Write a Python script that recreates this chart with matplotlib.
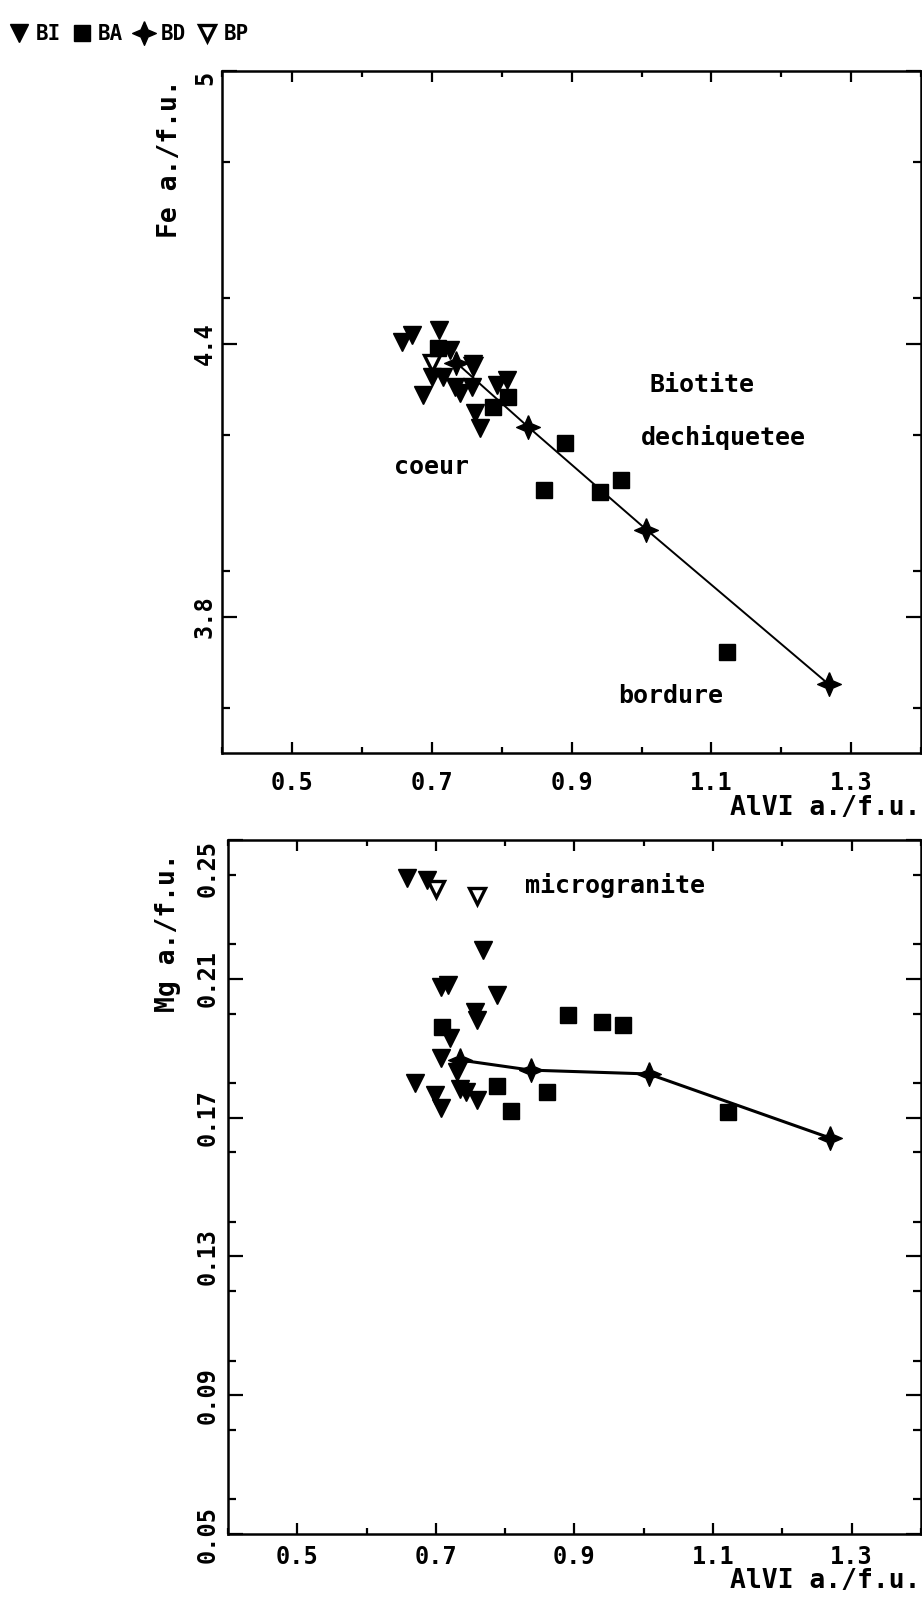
import numpy as np
import matplotlib.pyplot as plt
from matplotlib.ticker import MultipleLocator

plt.rcParams['font.family'] = ['DejaVu Sans Mono', 'DejaVu Sans']
plt.rcParams['font.weight'] = 'bold'
plt.rcParams['axes.labelweight'] = 'bold'

# --- data ---
# BI (filled down triangles), Fe panel
bi_alvi_fe = [0.657, 0.671, 0.710, 0.726, 0.700, 0.716, 0.733, 0.740,
              0.759, 0.757, 0.687, 0.793, 0.807, 0.761, 0.769]
bi_fe = [4.404, 4.420, 4.431, 4.387, 4.327, 4.327, 4.305, 4.292,
         4.356, 4.305, 4.288, 4.310, 4.321, 4.248, 4.215]
# BI, Mg panel
bi_alvi_mg = [0.658, 0.687, 0.708, 0.718, 0.788, 0.759, 0.756, 0.720, 0.708,
              0.730, 0.670, 0.735, 0.744, 0.759, 0.699, 0.708, 0.768]
bi_mg = [0.239, 0.2385, 0.2077, 0.2082, 0.2053, 0.1981, 0.2004, 0.1929, 0.1871,
         0.1832, 0.1799, 0.1784, 0.1775, 0.1751, 0.1765, 0.1727, 0.2183]

# BA (filled squares)
ba_alvi = [0.709, 0.788, 0.809, 0.860, 0.890, 0.940, 0.970, 1.122]
ba_fe = [4.391, 4.262, 4.284, 4.079, 4.182, 4.073, 4.101, 3.721]
ba_mg = [0.196, 0.179, 0.172, 0.1775, 0.1996, 0.1976, 0.1967, 0.1717]

# BD (four-point stars joined by a line)
bd_alvi = [0.735, 0.837, 1.007, 1.268]
bd_fe = [4.358, 4.218, 3.991, 3.651]
bd_mg = [0.1866, 0.1837, 0.1826, 0.1642]

# BP (open down triangles)
bp_alvi = [0.700, 0.759]
bp_fe = [4.358, 4.350]
bp_mg = [0.236, 0.234]

series_labels = ['BI', 'BA', 'BD', 'BP']

star4 = [(0, 1), (0.3, 0.3), (1, 0), (0.3, -0.3), (0, -1),
         (-0.3, -0.3), (-1, 0), (-0.3, 0.3), (0, 1)]

fig = plt.figure(figsize=(9.22, 15.98), dpi=100)
ax1 = fig.add_axes([0.2413, 0.5288, 0.7576, 0.4268])
ax2 = fig.add_axes([0.2473, 0.0400, 0.7516, 0.4343])


def draw_panel(ax, bi_x, bi_y, ba_y, bd_y, bp_y, line_w):
    h_bp, = ax.plot(bp_alvi, bp_y, 'v', ms=12, mfc='white', mec='black', mew=2.4,
                    ls='none', zorder=2)
    h_bi, = ax.plot(bi_x, bi_y, 'v', ms=13.5, color='black', ls='none', zorder=3)
    h_ba, = ax.plot(ba_alvi, ba_y, 's', ms=11, color='black', ls='none', zorder=3)
    ax.plot(bd_alvi, bd_y, '-', color='black', lw=line_w, zorder=3)
    h_bd, = ax.plot(bd_alvi, bd_y, marker=star4, ms=17, color='black', ls='none',
                    zorder=4)
    return [h_bi, h_ba, h_bd, h_bp]


handles = draw_panel(ax1, bi_alvi_fe, bi_fe, ba_fe, bd_fe, bp_fe, 1.4)
draw_panel(ax2, bi_alvi_mg, bi_mg, ba_mg, bd_mg, bp_mg, 2.2)

ax1.set_xlim(0.4, 1.4)
ax1.set_ylim(3.5, 5.0)
ax1.yaxis.set_minor_locator(MultipleLocator(0.3))
ax1.set_yticks([3.8, 4.4, 5.0])
ax1.set_yticklabels(['3.8', '4.4', '5'])

ax2.set_xlim(0.4, 1.4)
ax2.set_ylim(0.05, 0.25)
ax2.set_yticks([0.05, 0.09, 0.13, 0.17, 0.21, 0.25])
ax2.yaxis.set_minor_locator(MultipleLocator(0.02))

for ax, ypad, xpad in [(ax1, 4, 13), (ax2, 6, 8)]:
    ax.set_xticks([0.5, 0.7, 0.9, 1.1, 1.3])
    ax.xaxis.set_minor_locator(MultipleLocator(0.1))
    for s in ax.spines.values():
        s.set_linewidth(1.8)
    ax.tick_params(axis='both', which='both', direction='in',
                   top=True, right=True, width=1.6, labelsize=17)
    ax.tick_params(axis='x', which='major', length=8, pad=xpad)
    ax.tick_params(axis='x', which='minor', length=4)
    ax.tick_params(axis='y', which='major', length=10.5, pad=ypad)
    ax.tick_params(axis='y', which='minor', length=5.5)
    ylabs = ax.get_yticklabels()
    for lab in ylabs:
        lab.set_rotation(90)
        lab.set_va('center')
    # the topmost label sits below its tick, inside the frame height
    ylabs[-1].set_va('top')
    ax.set_xlabel('AlVI a./f.u.', fontsize=19, ha='right', va='center')

ax1.xaxis.set_label_coords(1.0, -0.0806)
ax2.xaxis.set_label_coords(1.0, -0.0677)

ax1.set_ylabel('Fe a./f.u.', fontsize=19, ha='center', va='center')
ax1.yaxis.set_label_coords(-0.075, 0.872)
ax2.set_ylabel('Mg a./f.u.', fontsize=19, ha='center', va='center')
ax2.yaxis.set_label_coords(-0.0866, 0.866)

# annotations
ax1.text(1.012, 4.31, 'Biotite', fontsize=18, ha='left', va='center')
ax1.text(0.999, 4.193, 'dechiquetee', fontsize=18, ha='left', va='center')
ax1.text(0.645, 4.130, 'coeur', fontsize=18, ha='left', va='center')
ax1.text(0.966, 3.626, 'bordure', fontsize=18, ha='left', va='center')
ax2.text(0.829, 0.237, 'microgranite', fontsize=18, ha='left', va='center')

fig.legend(handles, series_labels, loc='upper left', bbox_to_anchor=(0.0, 0.99),
           ncol=4, frameon=False, fontsize=15, handlelength=1.0,
           handletextpad=0.3, columnspacing=0.5, borderpad=0.4, borderaxespad=0)

fig.savefig('out.png', dpi=100)
